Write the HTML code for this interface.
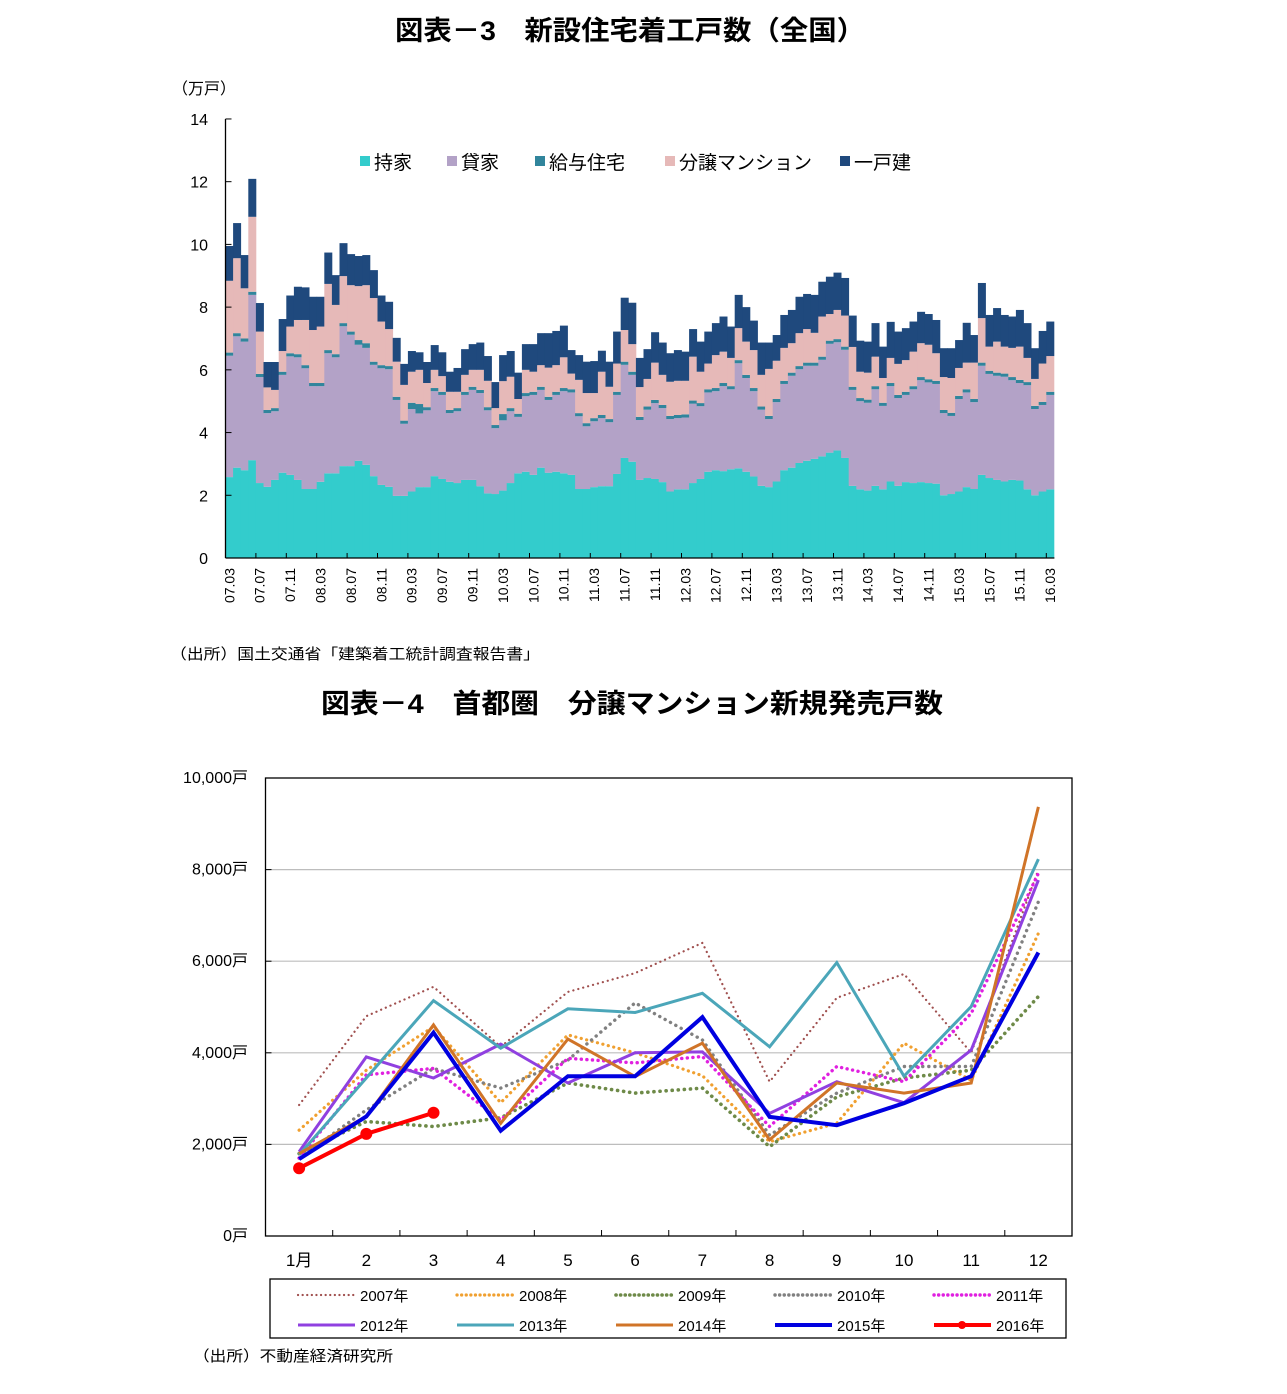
<!DOCTYPE html>
<html><head><meta charset="utf-8">
<style>
body{margin:0;background:#fff;width:1287px;height:1394px;overflow:hidden;font-family:"Liberation Sans","Noto Sans CJK JP",sans-serif;}
svg{position:absolute;left:0;top:0}
</style></head>
<body>
<svg id="c" width="1287" height="1394" xmlns="http://www.w3.org/2000/svg"></svg>
<script>
// ---- Chart 1 data (万戸), monthly 07.03 .. 16.03 ----
const months1Labels = ["07.03","07.07","07.11","08.03","08.07","08.11","09.03","09.07","09.11","10.03","10.07","10.11","11.03","11.07","11.11","12.03","12.07","12.11","13.03","13.07","13.11","14.03","14.07","14.11","15.03","15.07","15.11","16.03"];
const mochiie = [2.58,2.88,2.8,3.12,2.39,2.27,2.49,2.72,2.65,2.49,2.2,2.2,2.43,2.7,2.7,2.93,2.93,3.1,2.97,2.61,2.33,2.27,1.98,1.98,2.12,2.26,2.26,2.61,2.52,2.43,2.39,2.49,2.49,2.29,2.06,2.04,2.15,2.39,2.7,2.75,2.65,2.88,2.72,2.75,2.7,2.65,2.2,2.2,2.26,2.29,2.29,2.68,3.19,3.07,2.49,2.55,2.52,2.42,2.12,2.19,2.19,2.39,2.52,2.75,2.8,2.77,2.83,2.86,2.75,2.6,2.3,2.26,2.44,2.8,2.88,3.03,3.1,3.16,3.24,3.36,3.43,3.19,2.3,2.19,2.15,2.3,2.19,2.44,2.3,2.42,2.39,2.42,2.39,2.37,2.0,2.04,2.12,2.26,2.2,2.65,2.55,2.49,2.44,2.49,2.47,2.19,2.0,2.12,2.19];
const kashiya = [3.87,4.19,4.1,5.27,3.38,2.35,2.19,3.12,3.78,3.91,3.85,3.28,3.05,3.83,3.7,4.46,4.19,3.7,3.73,3.55,3.72,3.75,3.06,2.3,2.63,2.35,2.45,2.71,2.68,2.19,2.29,2.71,2.87,2.97,2.65,2.1,2.24,2.29,1.8,2.41,2.55,2.48,2.32,2.45,2.62,2.63,2.32,2.0,2.1,2.17,2.04,2.52,2.97,2.77,1.91,2.18,2.42,2.36,2.31,2.27,2.29,2.53,2.32,2.53,2.52,2.71,2.55,3.35,2.99,2.72,2.43,2.17,2.53,2.75,2.93,2.99,3.03,2.97,3.08,3.47,3.45,3.45,3.06,2.81,2.8,3.08,2.66,3.04,2.8,2.78,2.99,3.25,3.21,3.18,2.62,2.49,2.95,3.02,2.77,3.48,3.32,3.32,3.34,3.18,3.11,3.32,2.75,2.76,3.01];
const kyuyo = [0.1,0.1,0.1,0.1,0.1,0.1,0.1,0.1,0.1,0.1,0.1,0.1,0.1,0.1,0.1,0.1,0.1,0.15,0.15,0.1,0.1,0.1,0.1,0.1,0.2,0.3,0.1,0.1,0.1,0.1,0.1,0.1,0.1,0.1,0.1,0.1,0.2,0.1,0.1,0.1,0.1,0.1,0.1,0.1,0.1,0.1,0.1,0.1,0.1,0.1,0.1,0.1,0.1,0.1,0.1,0.1,0.1,0.1,0.1,0.1,0.1,0.1,0.1,0.1,0.1,0.1,0.1,0.1,0.1,0.1,0.1,0.1,0.1,0.1,0.1,0.1,0.1,0.1,0.1,0.1,0.1,0.1,0.1,0.1,0.1,0.1,0.1,0.1,0.1,0.1,0.1,0.1,0.1,0.1,0.1,0.1,0.1,0.1,0.1,0.1,0.1,0.1,0.1,0.1,0.1,0.1,0.1,0.1,0.1];
const bunjo = [2.29,2.39,1.6,2.39,1.35,0.72,0.58,0.66,0.85,1.09,1.44,1.69,1.8,2.11,1.57,1.5,1.48,1.72,1.85,2.03,1.39,1.18,1.12,1.14,0.99,1.09,0.77,0.58,0.5,0.58,0.52,0.54,0.54,0.64,0.84,0.54,1.05,1.0,0.47,0.74,0.64,0.69,0.93,0.85,0.98,0.5,1.06,0.96,0.8,1.38,1.03,0.9,1.01,0.88,0.95,0.88,1.19,0.96,1.09,1.09,1.07,1.4,1.0,0.82,1.05,1.0,0.9,1.02,1.06,1.21,1.01,1.5,1.22,1.05,0.94,1.05,1.07,0.95,1.28,0.85,0.93,0.99,1.27,0.84,0.86,0.94,0.79,0.8,0.99,1.01,1.1,1.08,1.1,0.88,1.05,1.11,0.89,0.85,1.16,1.42,0.77,0.99,0.86,0.93,1.06,0.77,0.86,1.22,1.14];
const kodate = [1.11,1.12,1.06,1.21,0.91,0.81,0.89,1.02,0.99,1.06,1.04,1.06,0.95,1.0,0.95,1.05,0.99,0.96,0.96,0.89,0.83,0.87,0.76,0.67,0.66,0.56,0.67,0.79,0.76,0.64,0.76,0.82,0.82,0.87,0.79,0.83,0.83,0.82,0.84,0.82,0.88,1.02,1.1,1.09,1.01,0.75,0.79,1.0,1.02,0.67,0.8,1.02,1.03,1.32,0.93,0.95,0.97,1.03,0.91,0.98,0.93,0.88,0.96,1.02,1.02,1.12,1.0,1.06,1.1,0.94,1.03,0.84,0.82,1.05,1.06,1.16,1.12,1.21,1.11,1.19,1.19,1.2,1.0,0.99,0.99,1.07,1.0,1.15,1.03,1.02,0.96,1.0,0.98,1.06,0.92,0.95,0.89,1.27,0.88,1.12,1.01,1.07,1.01,1.0,1.17,1.11,0.98,1.04,1.1];
const yTicks1 = [0,2,4,6,8,10,12,14];

// ---- Chart 2 data (戸) ----
const monthLabels2 = ["1月","2","3","4","5","6","7","8","9","10","11","12"];
const y2007 = [2860,4800,5440,4130,5330,5740,6400,3370,5200,5720,4000,8000];
const y2008 = [2310,3620,4570,2910,4390,4000,3500,2060,2460,4210,3400,6610];
const y2009 = [1800,2500,2390,2580,3340,3120,3230,1950,3040,3450,3620,5230];
const y2010 = [1700,2750,3660,3230,3840,5090,4280,2200,3120,3700,3700,7300];
const y2011 = [1700,3520,3660,2530,3880,3780,3920,2390,3700,3370,4860,7920];
const y2012 = [1840,3910,3450,4190,3340,4000,4020,2680,3370,2910,4060,7770];
const y2013 = [1770,3450,5140,4100,4960,4880,5300,4130,5970,3490,5010,8230];
const y2014 = [1800,2610,4610,2460,4300,3480,4210,2100,3340,3120,3340,9370];
const y2015 = [1680,2610,4440,2300,3490,3490,4780,2600,2420,2900,3490,6190];
const y2016 = [1480,2230,2690];
const yTicks2 = [0,2000,4000,6000,8000,10000];
const yTickLabels2 = ["0戸","2,000戸","4,000戸","6,000戸","8,000戸","10,000戸"];

const NS="http://www.w3.org/2000/svg";
const svg=document.getElementById('c');
function mk(tag,attrs,parent){const e=document.createElementNS(NS,tag);for(const k in attrs)e.setAttribute(k,attrs[k]);(parent||svg).appendChild(e);return e;}
function txt(s,attrs,parent){const e=mk('text',attrs,parent);e.textContent=s;return e;}

// Titles
let t=txt("図表－3　新設住宅着工戸数（全国）",{x:630,y:40,'text-anchor':'middle','font-size':27,'font-weight':'bold',fill:'#000',textLength:470,lengthAdjust:'spacingAndGlyphs'});


t=txt("図表－4　首都圏　分譲マンション新規発売戸数",{x:632,y:713,'text-anchor':'middle','font-size':27,'font-weight':'bold',fill:'#000',textLength:622,lengthAdjust:'spacingAndGlyphs'});



// ===== Chart 1 =====
const g1=mk('g',{});


const X0=225.5, BW=7.6, Y0=558, YS=31.36;
const ys1=v=>Y0-v*YS;
const xb=i=>X0+i*BW;
const series=[[mochiie,'#33cccc','mochiie'],[kashiya,'#b3a2c7','kashiya'],[kyuyo,'#31859c','kyuyo'],[bunjo,'#e6b9b8','bunjo'],[kodate,'#1f497d','kodate']];
for(let i=0;i<mochiie.length;i++){
  let base=0;
  for(const [arr,col,nm] of series){
    const v=arr[i];
    const r=mk('rect',{x:xb(i).toFixed(2),y:ys1(base+v).toFixed(2),width:(BW+0.4).toFixed(2),height:(v*YS).toFixed(2),fill:col},g1);
    
    
    base+=v;
  }
}
let ax=mk('line',{x1:X0,y1:119,x2:X0,y2:Y0,stroke:'#000','stroke-width':1.3},g1);


ax=mk('line',{x1:X0,y1:Y0,x2:xb(mochiie.length)+0.5,y2:Y0,stroke:'#000','stroke-width':1.3},g1);


for(const v of yTicks1){
  mk('line',{x1:X0,y1:ys1(v),x2:X0+6,y2:ys1(v),stroke:'#000','stroke-width':1},g1);
  const l=txt(String(v),{x:208,y:ys1(v)+6,'text-anchor':'end','font-size':16,fill:'#000'},g1);
  
  
}
for(let k=0;k<months1Labels.length;k++){
  const i=k*4;
  if(k>0) mk('line',{x1:xb(i),y1:Y0,x2:xb(i),y2:Y0-5,stroke:'#000','stroke-width':1},g1);
  const cx=xb(i)+BW/2;
  const l=txt(months1Labels[k],{x:0,y:0,'text-anchor':'end','font-size':14,fill:'#000',transform:`translate(${(cx+5).toFixed(1)},568) rotate(-90)`},g1);
  
  
}
t=txt("（万戸）",{x:172,y:94,'font-size':16,fill:'#000'},g1);


const leg1=[["持家",'#33cccc',360],["貸家",'#b3a2c7',447],["給与住宅",'#31859c',535],["分譲マンション",'#e6b9b8',665],["一戸建",'#1f497d',840]];
for(const [nm,col,x] of leg1){
  const g=mk('g',{},g1);
  
  
  mk('rect',{x:x,y:156,width:10,height:10,fill:col},g);
  txt(nm,{x:x+14,y:169,'font-size':19,fill:'#000'},g);
}
t=txt("（出所）国土交通省「建築着工統計調査報告書」",{x:170,y:659,'font-size':15,fill:'#000',textLength:370,lengthAdjust:'spacingAndGlyphs'});



// ===== Chart 2 =====
const g2=mk('g',{});


const PL=265.5, PR=1072, PT=778, PB=1236, CW=(PR-PL)/12;
const ys2=v=>PB-v/10000*(PB-PT);
const xc=i=>PL+CW*(i+0.5);
for(let k=0;k<yTicks2.length;k++){
  const v=yTicks2[k];
  if(v>0&&v<10000){const gl=mk('line',{x1:PL,y1:ys2(v),x2:PR,y2:ys2(v),stroke:'#bdbdbd','stroke-width':1.2},g2);
    
    }
  mk('line',{x1:PL,y1:ys2(v),x2:PL+6,y2:ys2(v),stroke:'#000','stroke-width':1},g2);
  const l=txt(yTickLabels2[k],{x:248,y:ys2(v)+5,'text-anchor':'end','font-size':16,fill:'#000'},g2);
  
  
}
const frame=mk('rect',{x:PL,y:PT,width:PR-PL,height:PB-PT,fill:'none',stroke:'#000','stroke-width':1.3},g2);


for(let i=0;i<12;i++){
  if(i>0) mk('line',{x1:PL+CW*i,y1:PB,x2:PL+CW*i,y2:PB-6,stroke:'#000','stroke-width':1},g2);
  const l=txt(monthLabels2[i],{x:xc(i),y:1266,'text-anchor':'middle','font-size':17,fill:'#000'},g2);
  
  
}
const lines=[
 [y2007,'#a0504f',2.2,'0.1 5','2007年'],
 [y2008,'#f0a030',3.2,'0.1 5.5','2008年'],
 [y2009,'#6e8a48',3.6,'0.1 6','2009年'],
 [y2010,'#808080',3.4,'0.1 6','2010年'],
 [y2011,'#e020e0',3.4,'0.1 5.5','2011年'],
 [y2012,'#9040e0',3,'','2012年'],
 [y2013,'#4ba6b9',3,'','2013年'],
 [y2014,'#d07428',3,'','2014年'],
 [y2015,'#0000e0',4,'','2015年'],
 [y2016,'#ff0000',4,'','2016年']
];
for(const [arr,col,w,dash,nm] of lines){
  const pts=arr.map((v,i)=>xc(i).toFixed(1)+','+ys2(v).toFixed(1)).join(' ');
  const p=mk('polyline',{points:pts,fill:'none',stroke:col,'stroke-width':w,'stroke-linecap':dash?'round':'butt','stroke-linejoin':'miter','stroke-dasharray':dash||'none'},g2);
  
  
  if(nm==='2016年'){
    arr.forEach((v,i)=>{const c=mk('circle',{cx:xc(i),cy:ys2(v),r:6,fill:col},g2);
      
      });
  }
}
const lb=mk('rect',{x:270,y:1279,width:796,height:59,fill:'#fff',stroke:'#000','stroke-width':1.3},g2);


const lx=[298,457,616,775,934];
lines.forEach((L,k)=>{
  const [arr,col,w,dash,nm]=L;
  const x=lx[k%5], y=k<5?1295:1325;
  const g=mk('g',{},g2);
  
  
  mk('line',{x1:x,y1:y,x2:x+57,y2:y,stroke:col,'stroke-width':w,'stroke-linecap':dash?'round':'butt','stroke-dasharray':dash?'0.1 4.5':'none'},g);
  if(nm==='2016年') mk('circle',{cx:x+28,cy:y,r:4,fill:col},g);
  txt(nm,{x:x+62,y:y+6,'font-size':15,fill:'#000'},g);
});
t=txt("（出所）不動産経済研究所",{x:193,y:1361,'font-size':15,fill:'#000',textLength:200,lengthAdjust:'spacingAndGlyphs'});


</script>
</body></html>
